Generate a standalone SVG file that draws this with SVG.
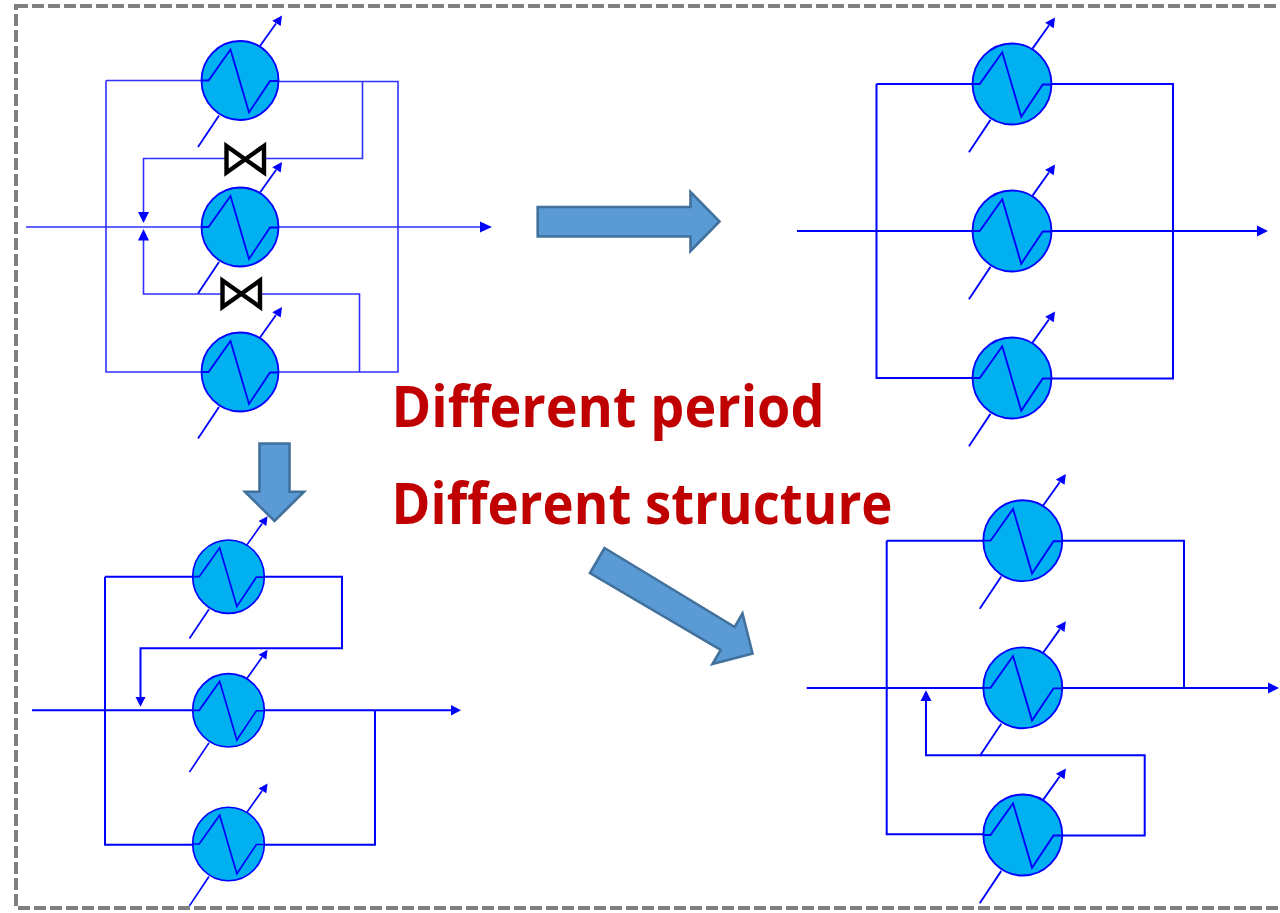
<svg xmlns="http://www.w3.org/2000/svg" width="1280" height="913" viewBox="0 0 1280 913">
<style>
.bd{fill:none;stroke:#7f7f7f;stroke-width:4;stroke-dasharray:12 4}
.c{fill:none;stroke:#0000ff;stroke-width:2}
.t{fill:none;stroke:#3030ff;stroke-width:1.6}
.h{fill:#0000ff;stroke:none}
.v{fill:#fff;stroke:#000;stroke-width:4.4}
.b{fill:#5b9bd5;stroke:#41719c;stroke-width:2.6}
.x{font-family:"Open Sans",sans-serif;font-weight:700;font-size:58px;fill:#c00000}
.e{fill:#00b0f0;stroke:#0000ff;stroke-width:1.8}
.z{fill:none;stroke:#0000ff;stroke-width:1.8}
</style>
<defs>
<g id="hx">
<path class="z" d="M-42 66.500L-21 35M20 -34.500L36 -57"/>
<ellipse class="e" cx="0" cy="0" rx="38.500" ry="39.500"/>
<path class="z" d="M-38.500 0H-31.500L-9.500 -31L9 32L30 .5H38.500"/>
<polygon class="h" points="42,-65 32.300,-59.800 40.700,-54.500"/>
</g>
</defs>
<rect class="bd" x="16" y="6" width="1300" height="902"/>
<g id="connectors">
<path class="t" d="M106 80.500H201M106 80.500V372H201M279 81.500H398V372H279M362.500 81V158.500H143.500V213M359.500 372V294H143.500V240M26 227H481"/>
<polygon class="h" points="143.500,223 138,212 149,212"/>
<polygon class="h" points="143.500,229 138,240.500 149,240.500"/>
<polygon class="h" points="492,227 480,221.500 480,232.500"/>
<path class="c" d="M876.500 84H973M876.500 84V378H973M1052 84H1173V378.500H1052M797 231H1258"/>
<polygon class="h" points="1268,231 1257,225.500 1257,236.500"/>
<path class="c" d="M886.700 540.700H983M886.700 540.700V834.300H983M1062 540.700H1184V689M806.700 688H1269M1062 835.500H1144.700V755.300H926V700"/>
<polygon class="h" points="1279,688 1268,682.500 1268,693.500"/>
<polygon class="h" points="926,690.300 920.500,701 931.500,701"/>
<path class="c" d="M105 576.700H192M105 576.700V844.700H192M265 576.700H342V648.300H140.500V698M32 710.300H452M265 710.300H375V844.700H265"/>
<polygon class="h" points="461,710.300 451,705 451,715.500"/>
<polygon class="h" points="140.500,706.700 135.500,697 145.500,697"/>
</g>
<g id="hx-a1"><use href="#hx" transform="translate(240 80.500)"/></g>
<g id="hx-a2"><use href="#hx" transform="translate(240 227)"/></g>
<g id="hx-a3"><use href="#hx" transform="translate(240 372)"/></g>
<g id="hx-b1"><use href="#hx" transform="translate(1012 84) scale(1.025)"/></g>
<g id="hx-b2"><use href="#hx" transform="translate(1012 231) scale(1.025)"/></g>
<g id="hx-b3"><use href="#hx" transform="translate(1012 378) scale(1.025)"/></g>
<g id="hx-c1"><use href="#hx" transform="translate(228.500 576.700) scale(.93)"/></g>
<g id="hx-c2"><use href="#hx" transform="translate(228.500 710.300) scale(.93)"/></g>
<g id="hx-c3"><use href="#hx" transform="translate(228.500 844) scale(.93)"/></g>
<g id="hx-d1"><use href="#hx" transform="translate(1022.800 540.700) scale(1.025)"/></g>
<g id="hx-d2"><use href="#hx" transform="translate(1022.800 687.800) scale(1.025)"/></g>
<g id="hx-d3"><use href="#hx" transform="translate(1022.800 835) scale(1.025)"/></g>
<g id="valve-1"><polygon class="v" points="226.500,146 264,172.500 264,146 226.500,172.500"/></g>
<g id="valve-2"><polygon class="v" points="222.500,280.500 260,307 260,280.500 222.500,307"/></g>
<g id="arrow-right"><polygon class="b" points="537.700,207 690.500,207 690.500,192 719.500,221.500 690.500,251 690.500,236.500 537.700,236.500"/></g>
<g id="arrow-down"><polygon class="b" points="259.500,443.500 289.500,443.500 289.500,491.700 304,491.700 274.500,521 245,491.700 259.500,491.700"/></g>
<g id="arrow-diagonal"><polygon class="b" points="604.500,548 734.700,627 742.500,613.500 752.500,653.500 712.500,664 720.700,650 590,573"/></g>
<g id="labels">
<text class="x" x="391.500" y="427" textLength="433" lengthAdjust="spacingAndGlyphs">Different period</text>
<text class="x" x="391.500" y="524" textLength="501" lengthAdjust="spacingAndGlyphs">Different structure</text>
</g>
</svg>
